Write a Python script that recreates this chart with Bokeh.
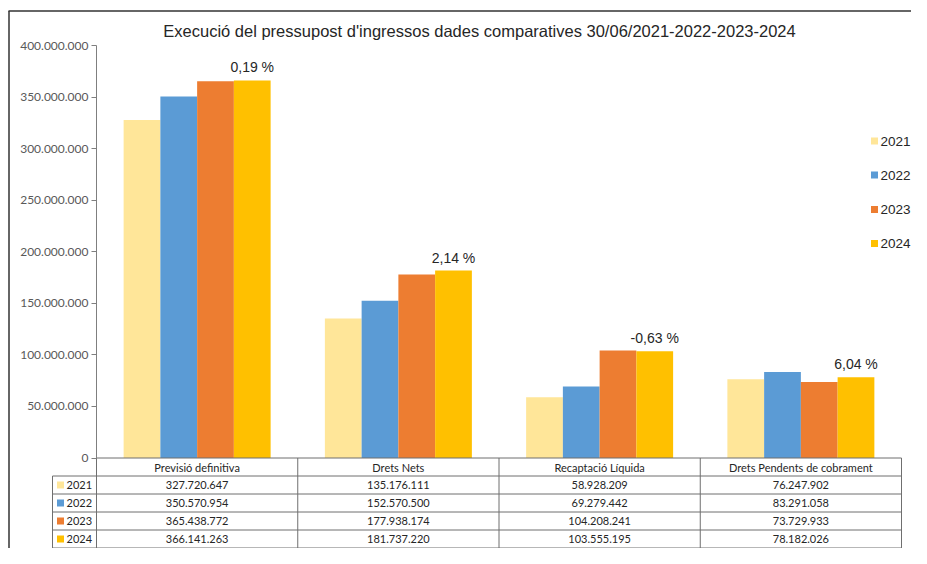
import numpy as np
from bokeh.plotting import figure
from bokeh.models import LinearAxis, FixedTicker, CustomJSTickFormatter, Range1d
from bokeh.core.properties import value
from bokeh.embed import file_html
from bokeh.resources import INLINE

# ---------------- data ----------------
title = "Execució del pressupost d'ingressos dades comparatives 30/06/2021-2022-2023-2024"
categories = ["Previsió definitiva", "Drets Nets", "Recaptació Líquida", "Drets Pendents de cobrament"]
years = ["2021", "2022", "2023", "2024"]
v2021 = [327720647, 135176111, 58928209, 76247902]
v2022 = [350570954, 152570500, 69279442, 83291058]
v2023 = [365438772, 177938174, 104208241, 73729933]
v2024 = [366141263, 181737220, 103555195, 78182026]
pct_labels = ["0,19 %", "2,14 %", "-0,63 %", "6,04 %"]
y_ticks = [0, 50000000, 100000000, 150000000, 200000000, 250000000, 300000000, 350000000, 400000000]
colors = ["#FFE699", "#5B9BD5", "#ED7D31", "#FFC000"]
series = [v2021, v2022, v2023, v2024]

# ---------------- layout helpers (pixel -> data) ----------------
W, H = 911, 548
CAT0 = 96.0             # pixel x of category 0 left edge
CATW = 201.25           # pixel width of one category
Y0 = 457.5              # pixel y of value 0
Y400 = 45.0             # pixel y of 400M
PPU = (Y0 - Y400) / 400e6
ROW = 18.0              # table row height


def X(px):
    return (px - CAT0) / CATW


def Y(py):
    return (Y0 - py) / PPU


p = figure(width=W, height=H,
           x_range=Range1d(X(0), X(W)),
           y_range=Range1d(Y(H), Y(0)),
           output_backend="svg", toolbar_location=None,
           x_axis_location=None, y_axis_location=None,
           min_border_left=0, min_border_right=0, min_border_top=0, min_border_bottom=0,
           outline_line_color=None, background_fill_color="white", border_fill_color="white")
p.grid.visible = False

# y axis drawn at x = 0 (left edge of first category)
fmt = CustomJSTickFormatter(code=r"return Math.round(tick).toString().replace(/\B(?=(\d{3})+(?!\d))/g, '.');")
yaxis = LinearAxis(fixed_location=0, bounds=(0, 400000000), ticker=FixedTicker(ticks=y_ticks),
                   formatter=fmt, axis_line_color="#7f7f7f", major_tick_line_color="#7f7f7f",
                   major_tick_out=5, major_tick_in=0, minor_tick_line_color=None,
                   major_label_text_font="Lato", major_label_text_font_size="12px",
                   major_label_text_color="#595959", major_label_standoff=3)
p.add_layout(yaxis, "left")

# bars
bw = 0.1826
xc = np.arange(len(categories)) + 0.5
for k, (vals, col) in enumerate(zip(series, colors)):
    p.vbar(x=xc + (k - 1.5) * bw, top=vals, bottom=0, width=bw, fill_color=col, line_color=None)

# percentage labels above the 2024 bars
p.text(x=xc + 1.5 * bw, y=v2024, text=pct_labels, y_offset=-13,
       text_align="center", text_baseline="middle", text_font=value("Liberation Sans"),
       text_font_size="14px", text_color="#262626")

# title
p.text(x=[X(479)], y=[Y(30)], text=[title], text_align="center", text_baseline="middle",
       text_font=value("Liberation Sans"), text_font_size="16.5px", text_color="#262626")

# legend on the right
leg_y = [Y(140.5), Y(174.5), Y(209), Y(243)]
p.scatter(x=[X(874)] * 4, y=leg_y, marker="square", size=7, fill_color=colors, line_color=None)
p.text(x=[X(880)] * 4, y=leg_y, text=years, text_align="left", text_baseline="middle",
       text_font=value("Liberation Sans"), text_font_size="13.5px", text_color="#262626")

# ---------------- data table ----------------
line_col = "#6f6f6f"
hy = [Y0 + ROW * r for r in range(6)]
x0s, x1s, y0s, y1s = [], [], [], []
for i, py in enumerate(hy):
    x0s.append(X(96 if i == 0 else 52)); x1s.append(X(901))
    y0s.append(Y(py)); y1s.append(Y(py))
x0s.append(X(52)); x1s.append(X(52)); y0s.append(Y(hy[1])); y1s.append(Y(hy[-1]))
for i in range(len(categories) + 1):
    x0s.append(i); x1s.append(i); y0s.append(Y(hy[0])); y1s.append(Y(hy[-1]))
p.segment(x0=x0s, y0=y0s, x1=x1s, y1=y1s, line_color=line_col, line_width=1)

# header
p.text(x=xc, y=[Y(Y0 + ROW / 2)] * 4, text=categories, text_align="center", text_baseline="middle",
       text_font=value("Lato"), text_font_size="11px", text_color="#262626")

row_y = [Y(Y0 + ROW * (r + 1.5)) for r in range(4)]
p.scatter(x=[X(60)] * 4, y=row_y, marker="square", size=7, fill_color=colors, line_color=None)
p.text(x=[X(66)] * 4, y=row_y, text=years, text_align="left", text_baseline="middle",
       text_font=value("Lato"), text_font_size="11px", text_color="#262626")

for r, vals in enumerate(series):
    labels = [f"{v:,}".replace(",", ".") for v in vals]
    p.text(x=xc, y=[row_y[r]] * 4, text=labels, text_align="center", text_baseline="middle",
           text_font=value("Lato"), text_font_size="11px", text_color="#262626")

# chart-area border (left and top edges visible)
p.segment(x0=[X(8.5), X(8)], y0=[Y(10.5), Y(10.5)], x1=[X(8.5), X(W)], y1=[Y(H), Y(10.5)],
          line_color="#333333", line_width=1.5)

open("out.html", "w").write(file_html(p, INLINE))
